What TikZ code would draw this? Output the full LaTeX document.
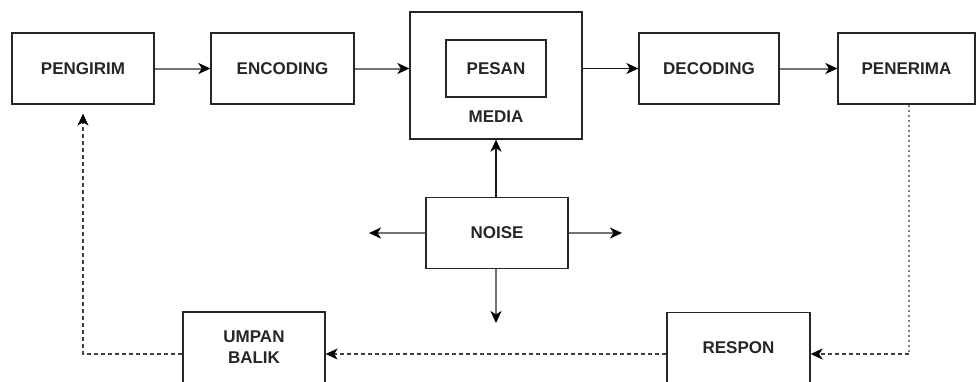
\documentclass[tikz,border=0pt]{standalone}
\usepackage{fontspec}
\setmainfont{Liberation Sans}
\usetikzlibrary{arrows.meta}
\begin{document}
\begin{tikzpicture}[x=1pt,y=-1pt,
  box/.style={draw=black!85, line width=1.3pt, fill=white, inner sep=0pt,
    font=\fontsize{17}{21}\selectfont\bfseries, text=black!85, align=center},
  tip/.style={-{Stealth[length=12pt,width=11pt,inset=3.5pt,black]}},
  garr/.style={tip, line width=2pt, draw=black!55},
  barr/.style={tip, line width=1.4pt, draw=black!90},
  fb/.style={tip, line width=1.2pt, draw=black!75, dash pattern=on 4pt off 3pt},
  fbdot/.style={line width=1.2pt, draw=black!50, dash pattern=on 2.5pt off 2.5pt}]
\useasboundingbox (0,0) rectangle (976,381);
\clip (0,0) rectangle (976,381);
\fill[white] (0,0) rectangle (976,381);

\node[box, minimum width=142pt, minimum height=71pt] (pengirim) at (83,68.5) {PENGIRIM};
\node[box, minimum width=143pt, minimum height=71pt] (encoding) at (282.5,68.5) {ENCODING};
\node[box, minimum width=172pt, minimum height=127pt] (media) at (496,75.5) {};
\node[box, minimum width=100pt, minimum height=57pt] (pesan) at (496,68.5) {PESAN};
\node[font=\fontsize{17}{21}\selectfont\bfseries, text=black!85] (medialbl) at (496,117) {MEDIA};
\node[box, minimum width=140pt, minimum height=71pt] (decoding) at (709,68.5) {DECODING};
\node[box, minimum width=137pt, minimum height=71pt] (penerima) at (906.5,68.5) {\raisebox{-3.5pt}{PENERIMA}};
\node[box, minimum width=142pt, minimum height=71pt] (noise) at (497,233) {NOISE};
\node[box, minimum width=142pt, minimum height=71pt] (umpan) at (254,347.5) {UMPAN\\BALIK};
\node[box, minimum width=143pt, minimum height=71pt] (respon) at (738.5,348) {RESPON};

\coordinate (nl) at (369,233);
\coordinate (nr) at (622,233);
\coordinate (nd) at (496,323);
\coordinate (pd) at (909,354);
\coordinate (ul) at (83,354);

\draw[garr] (pengirim.east) -- (encoding.west);
\draw[garr] (encoding.east) -- (encoding.east -| media.west);
\draw[barr] (media.east |- decoding.west) -- (decoding.west);
\draw[garr] (decoding.east) -- (penerima.west);
\draw[barr] (noise.north -| media.south) -- (media.south);
\draw[garr] (noise.west) -- (nl);
\draw[garr] (noise.east) -- (nr);
\draw[garr] (noise.south -| nd) -- (nd);
\draw[fbdot] (penerima.south -| pd) -- (pd);
\draw[fb] (pd) -- (pd -| respon.east);
\draw[fb] (respon.west |- pd) -- (umpan.east |- pd);
\draw[fb, shorten >=9pt] (umpan.west |- pd) -- (ul) -- (pengirim.south);
\end{tikzpicture}
\end{document}
